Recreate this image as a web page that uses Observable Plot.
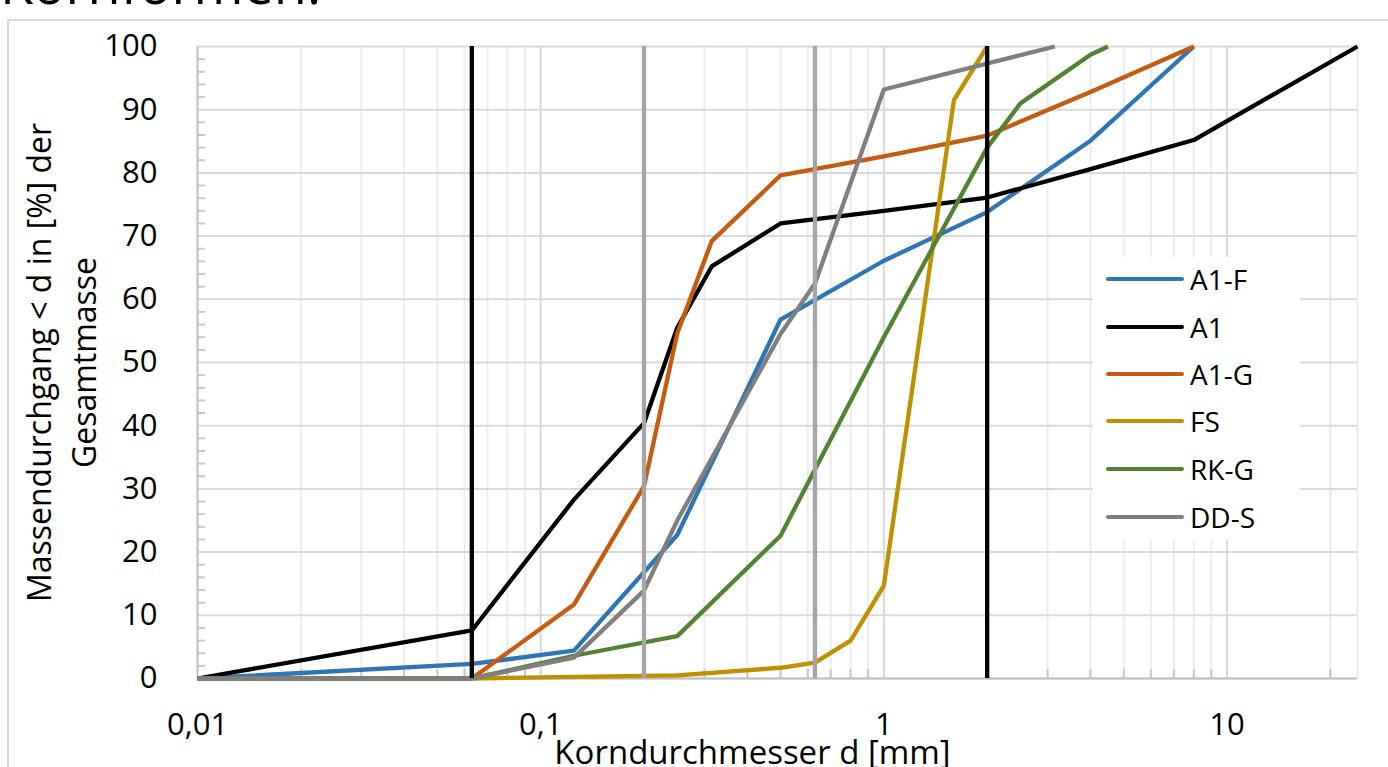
<!DOCTYPE html>
<html>
<head>
<meta charset="utf-8">
<script src="https://cdn.jsdelivr.net/npm/d3@7"></script>
<script src="https://cdn.jsdelivr.net/npm/@observablehq/plot@0.6"></script>
<style>
  html, body { margin: 0; padding: 0; background: #fff; overflow: hidden; }
  body { width: 1388px; height: 767px; position: relative; font-family: "Open Sans", sans-serif; }
  #frame { position: absolute; left: 7px; top: 19px; width: 1420px; height: 800px; border: 2px solid #d9d9d9; box-sizing: border-box; }
  #heading { position: absolute; left: 0px; top: -44px; font-size: 54px; line-height: 54px; color: #000; white-space: nowrap; }
  #chart { position: absolute; left: 0; top: 0; }
  #legend { position: absolute; left: 1093px; top: 257px; width: 207px; height: 283px; background: #fff; }
  .row { position: absolute; left: 0; height: 40px; }
  .sw { position: absolute; left: 13px; width: 78px; height: 4px; border-radius: 2px; }
  .lab { position: absolute; left: 97px; top: 0; font-size: 28px; line-height: 40px; color: #000; white-space: nowrap; }
</style>
</head>
<body>
<div id="heading">Kornformen.</div>
<div id="frame"></div>
<div id="chart"></div>
<div id="legend"></div>
<script>
// ---- data ----
const seriesNames = ["A1-F", "A1", "A1-G", "FS", "RK-G", "DD-S"];
const seriesColors = ["#2e75b6", "#000000", "#c55a11", "#bf9000", "#548235", "#7f7f7f"];

const a1fX = [0.01, 0.063, 0.125, 0.25, 0.5, 1, 2, 4, 8];
const a1fY = [0, 2.3, 4.4, 22.7, 56.8, 66.1, 73.8, 85.1, 100];

const a1X = [0.01, 0.063, 0.125, 0.2, 0.25, 0.315, 0.5, 1, 2, 4, 8, 24];
const a1Y = [0, 7.6, 28.3, 40.4, 55.5, 65.2, 72.0, 74.0, 76.1, 80.6, 85.2, 100];

const a1gX = [0.063, 0.125, 0.2, 0.25, 0.315, 0.5, 1, 2, 4, 8];
const a1gY = [0, 11.7, 30.4, 54.6, 69.2, 79.6, 82.6, 85.9, 92.8, 100];

const fsX = [0.01, 0.063, 0.25, 0.5, 0.63, 0.8, 1, 1.6, 2];
const fsY = [0, 0, 0.5, 1.7, 2.5, 6.0, 14.7, 91.5, 100];

const rkgX = [0.01, 0.063, 0.125, 0.25, 0.5, 1, 2, 2.5, 4, 4.5];
const rkgY = [0, 0, 3.6, 6.7, 22.6, 54, 84, 91, 98.7, 100];

const ddsX = [0.01, 0.063, 0.125, 0.2, 0.25, 0.5, 0.63, 1, 3.15];
const ddsY = [0, 0, 3.3, 13.9, 25, 54.5, 62.5, 93.2, 100];

const limitsBlack = [0.063, 2];
const limitsGray = [0.2, 0.63];

const xTicks = [0.01, 0.1, 1, 10];
const xTickLabels = ["0,01", "0,1", "1", "10"];
const yTicks = [0, 10, 20, 30, 40, 50, 60, 70, 80, 90, 100];
const xDomain = [0.01, 24];

const yTitle1 = "Massendurchgang < d in [%] der";
const yTitle2 = "Gesamtmasse";
const xTitle = "Korndurchmesser d [mm]";

// ---- build tables ----
const allX = [a1fX, a1X, a1gX, fsX, rkgX, ddsX];
const allY = [a1fY, a1Y, a1gY, fsY, rkgY, ddsY];
const rows = [];
seriesNames.forEach((name, i) => {
  allX[i].forEach((x, j) => rows.push({series: name, d: x, p: allY[i][j]}));
});

const xMinor = [];
[0.01, 0.1, 1, 10].forEach(dec => { for (let k = 2; k <= 9; k++) { const v = dec * k; if (v <= xDomain[1]) xMinor.push(v); } });
xMinor.push(20);
const yMinor = d3.range(0, 101, 2).filter(v => v % 10 !== 0);

const pTop = 46, pBottom = 678, pLeft = 197, pRight = 1357;
const frameH = pBottom - pTop, frameW = pRight - pLeft;
const FONT = "Open Sans";

const chart = Plot.plot({
  width: 1388,
  height: 767,
  marginLeft: pLeft,
  marginRight: 1388 - pRight,
  marginTop: pTop,
  marginBottom: 767 - pBottom,
  style: {background: "none", fontFamily: FONT, fontSize: "31px", color: "#000", overflow: "visible"},
  x: {type: "log", domain: xDomain},
  y: {domain: [0, 100]},
  color: {domain: seriesNames, range: seriesColors},
  marks: [
    Plot.ruleX(xMinor, {stroke: "#ececec", strokeWidth: 2}),
    Plot.ruleX([xDomain[1]], {stroke: "#ececec", strokeWidth: 2}),
    Plot.ruleX([0.1, 1, 10], {stroke: "#d9d9d9", strokeWidth: 2}),
    Plot.ruleY(yTicks, {stroke: "#d9d9d9", strokeWidth: 2}),
    Plot.tickX(xMinor, {x: d => d, stroke: "#c8c8c8", strokeWidth: 2, insetTop: frameH - 9}),
    Plot.tickY(yMinor, {y: d => d, stroke: "#c8c8c8", strokeWidth: 2, insetRight: frameW - 8}),
    Plot.ruleX([xDomain[0]], {stroke: "#bfbfbf", strokeWidth: 2}),
    Plot.ruleY([0], {stroke: "#bfbfbf", strokeWidth: 2}),
    Plot.line(rows, {x: "d", y: "p", z: "series", stroke: "series", strokeWidth: 4.3, strokeLinejoin: "round", strokeLinecap: "butt"}),
    Plot.ruleX(limitsGray, {stroke: "#a5a5a5", strokeWidth: 4.3}),
    Plot.ruleX(limitsBlack, {stroke: "#000", strokeWidth: 4.3}),
    Plot.axisY({ticks: yTicks, tickSize: 0, tickPadding: 40, label: null, fontSize: 31}),
    Plot.axisX({ticks: xTicks, tickSize: 0, tickPadding: 34, label: null, fontSize: 31,
      tickFormat: d => xTickLabels[xTicks.indexOf(d)]}),
    Plot.text([yTitle1], {frameAnchor: "left", rotate: -90, dx: 40 - pLeft, textAnchor: "middle", lineAnchor: "middle", fontSize: 32, fill: "#000"}),
    Plot.text([yTitle2], {frameAnchor: "left", rotate: -90, dx: 85 - pLeft, textAnchor: "middle", lineAnchor: "middle", fontSize: 32, fill: "#000"}),
    Plot.text([xTitle], {frameAnchor: "bottom", dx: 752 - (pLeft + pRight) / 2, dy: 753 - pBottom, textAnchor: "middle", lineAnchor: "middle", fontSize: 33, fill: "#000"})
  ]
});
document.getElementById("chart").appendChild(chart);

// legend
const lg = document.getElementById("legend");
const rowCenters = [22, 70, 117, 164, 212, 260];
seriesNames.forEach((name, i) => {
  const r = document.createElement("div");
  r.className = "row";
  r.style.top = (rowCenters[i] - 20) + "px";
  r.style.width = "207px";
  r.innerHTML = `<span class="sw" style="background:${seriesColors[i]};top:18px"></span><span class="lab">${name}</span>`;
  lg.appendChild(r);
});
</script>
</body>
</html>
